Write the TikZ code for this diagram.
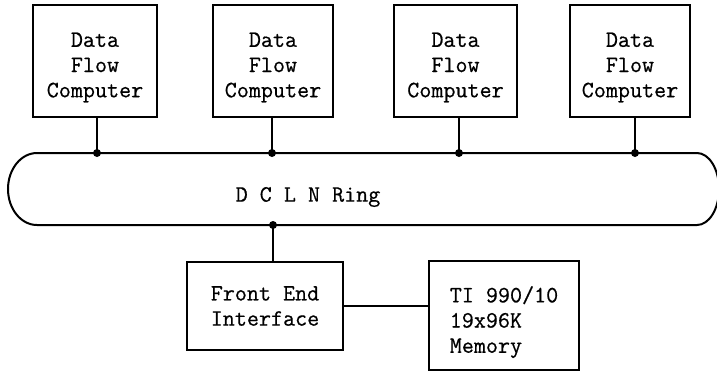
\documentclass[tikz,border=0pt]{standalone}
\usepackage{fontspec}
\newfontfamily\twfont[FakeBold=0.6]{Latin Modern Mono}
\newcommand{\threelines}[4]{\raisebox{#1}[\height][\depth]{\begin{tabular}{@{}#2@{}}#3\end{tabular}}}
\begin{document}
\begin{tikzpicture}[x=0.5pt,y=-0.5pt,
  box/.style={draw,line width=1pt,inner sep=0pt,align=center,
    font=\twfont\fontsize{11.7}{12.6}\selectfont},
  ring/.style={line width=1pt},
  conn/.style={line width=1.2pt},
  dot/.style={fill=black}]
\useasboundingbox (0,0) rectangle (717,372);
\clip (0,0) rectangle (717,372);
% computers
\node[box,minimum width=62pt,minimum height=56pt] (b1) at (95,61) {\threelines{-3pt}{c}{Data\\Flow\\Computer}{}};
\node[box,minimum width=60pt,minimum height=56pt] (b2) at (273,61) {\threelines{-3pt}{c}{Data\\Flow\\Computer}{}};
\node[box,minimum width=61.5pt,minimum height=56pt] (b3) at (455.5,61) {\threelines{-3pt}{c}{Data\\Flow\\Computer}{}};
\node[box,minimum width=60pt,minimum height=56pt] (b4) at (630,61) {\threelines{-3pt}{c}{Data\\Flow\\Computer}{}};
% ring
\draw[ring] (37,153) -- (697,153) arc[start angle=90,end angle=-90,x radius=11pt,y radius=18pt]
  -- (37,225) arc[start angle=270,end angle=90,x radius=14.5pt,y radius=18pt] -- cycle;
\node[font=\twfont\fontsize{11.7}{12.6}\selectfont] (ringlabel) at (308,197) {D C L N Ring};
% junctions
\coordinate (j1) at (97,153);
\coordinate (j2) at (272,153);
\coordinate (j3) at (459,153);
\coordinate (j4) at (635,153);
\coordinate (j5) at (273,225);
% front end and memory
\node[box,minimum width=78pt,minimum height=44pt] (fe) at (265,306) {\threelines{-1pt}{c}{Front End\\Interface}{}};
\node[box,minimum width=75pt,minimum height=54.5pt] (mem) at (504,315.5) {\threelines{-3.5pt}{l}{TI 990/10\\19x96K\\Memory}{}};
% connectors
\draw[conn] (j1) -- (j1 |- b1.south);
\draw[conn] (j2) -- (j2 |- b2.south);
\draw[conn] (j3) -- (j3 |- b3.south);
\draw[conn] (j4) -- (j4 |- b4.south);
\draw[conn] (j5) -- (j5 |- fe.north);
\draw[line width=1pt] (fe.east) -- (fe.east -| mem.west);
\foreach \j in {j1,j2,j3,j4,j5} \fill[dot] (\j) circle[radius=2pt];
\end{tikzpicture}
\end{document}
